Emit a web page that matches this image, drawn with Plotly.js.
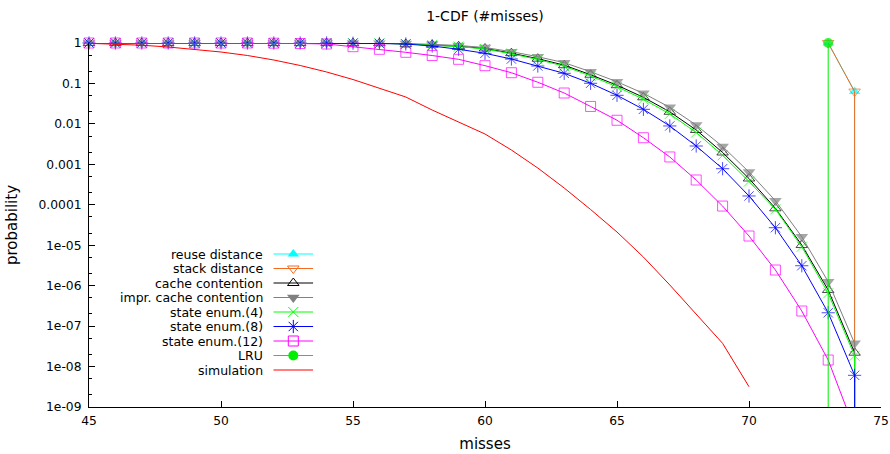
<!DOCTYPE html>
<html><head><meta charset="utf-8">
<script src="https://cdn.plot.ly/plotly-3.0.1.min.js"></script>
<style>html,body{margin:0;padding:0;background:#fff}#chart{width:890px;height:454px}</style>
</head><body><div id="chart"></div>
<script>
// ---------- data ----------
const misses = [45,46,47,48,49,50,51,52,53,54,55,56,57,58,59,60,61,62,63,64,65,66,67,68,69,70,71,72,73,74];
const dropMisses = misses.concat([74]);   // last point: remaining probability falls to 0

const reuseMisses = [73, 74, 74];
const reuseDistance = [1, 0.063, 0];
const stackMisses = [73, 74, 74];
const stackDistance = [1, 0.063, 0];

const cacheContention = [1,1,1,1,1,1,1,1,1,1, 0.994,0.989,0.950,0.903,0.829,0.731,0.560,0.409,0.283,0.164,
  0.0905,0.0454,0.0199,0.00706,0.00196,4.46e-4,8.17e-5,1.01e-5,7.80e-7,2.20e-8, 0];
const imprCacheContention = [1,1,1,1,1,1,1,1,1,1, 0.994,0.989,0.966,0.929,0.868,0.774,0.610,0.458,0.326,0.195,
  0.110,0.0570,0.0257,0.00937,0.00275,6.46e-4,1.26e-4,1.62e-5,1.25e-6,3.75e-8, 0];
const stateEnum4 = [1,1,1,1,1,1,1,1,1,1, 0.993,0.988,0.945,0.892,0.815,0.711,0.541,0.391,0.267,0.153,
  0.0826,0.0408,0.0176,0.00612,0.00167,3.76e-4,7.72e-5,9.18e-6,6.47e-7,1.85e-8, 0];
const stateEnum8 = [1,1,1,1,1,1,1,1,1,1, 0.99,0.972,0.945,0.843,0.699,0.556,0.402,0.270,0.178,0.101,
  0.0509,0.0229,0.00889,0.00284,7.8e-4,1.65e-4,2.71e-5,3.11e-6,2.14e-7,6.07e-9, 0];
const stateEnum12 = [1,1,1,1,1,1,1,0.99,0.972,0.945, 0.81,0.698,0.589,0.49,0.395,0.275,0.184,0.107,0.058,0.027,
  0.0123,0.00455,0.00152,4.1e-4,9.3e-5,1.69e-5,2.44e-6,2.36e-7,1.45e-8,2.8e-10];
const lruMisses = [73, 73];
const lru = [1, 0];
const simMisses = [45,46,47,48,49,50,51,52,53,54,55,56,57,58,59,60,61,62,63,64,65,66,67,68,69,70];
const simulation = [0.983,0.945,0.882,0.796,0.699,0.599,0.491,0.380,0.278,0.192,0.125,0.0771,0.0462,0.0220,
  0.0111,0.00562,0.00226,8.1e-4,2.6e-4,7.64e-5,2.12e-5,5.1e-6,1.04e-6,1.99e-7,3.75e-8,3.17e-9];

const xTickVals = [45,50,55,60,65,70,75];
const yTickVals = [1,0.1,0.01,0.001,0.0001,1e-5,1e-6,1e-7,1e-8,1e-9];
const yTickText = ['1','0.1','0.01','0.001','0.0001','1e-05','1e-06','1e-07','1e-08','1e-09'];

// ---------- styling ----------
const Y_MIN = 1e-9;
const ZERO_STANDIN = 1e-30; // a log axis cannot show 0; this lies far below the range
const toLog = arr => arr.map(v => v > 0 ? v : ZERO_STANDIN);
const FONT = 'DejaVu Sans, Liberation Sans, sans-serif';

const series = [
  {name:'reuse distance', x:reuseMisses, y:reuseDistance, color:'#00ffff', symbol:'triangle-up', size:10, filled:true},
  {name:'stack distance', x:stackMisses, y:stackDistance, color:'#f26b21', symbol:'triangle-down-open', size:10},
  {name:'cache contention', x:dropMisses, y:cacheContention, color:'#000000', symbol:'triangle-up-open', size:10},
  {name:'impr. cache contention', x:dropMisses, y:imprCacheContention, color:'#808080', symbol:'triangle-down', size:11, filled:true},
  {name:'state enum.(4)', x:dropMisses, y:stateEnum4, color:'#00ff00', symbol:'x-thin-open', size:10},
  {name:'state enum.(8)', x:dropMisses, y:stateEnum8, color:'#0000ff', symbol:'asterisk-open', size:11},
  {name:'state enum.(12)', x:misses, y:stateEnum12, color:'#ff00ff', symbol:'square-open', size:10},
  {name:'LRU', x:lruMisses, y:lru, color:'#00ee00', symbol:'circle', size:10, filled:true},
  {name:'simulation', x:simMisses, y:simulation, color:'#ff0000', symbol:null}
];

function markerFor(s, sizes) {
  return {
    symbol: s.symbol, size: sizes, color: s.color,
    line: {color: s.color, width: s.filled ? 0 : 1}
  };
}

const traces = [];
series.forEach(s => {
  const yv = toLog(s.y);
  const t = {type:'scatter', x:s.x, y:yv, name:s.name, showlegend:false, cliponaxis:false,
    mode: s.symbol ? 'lines+markers' : 'lines', line:{color:s.color, width:1}, xaxis:'x', yaxis:'y', hoverinfo:'skip'};
  if (s.symbol) t.marker = markerFor(s, s.y.map(v => v >= Y_MIN ? s.size : 0));
  traces.push(t);
});

// custom legend (gnuplot style: text right-aligned, sample to the right)
const LEG_TOP = 211, LEG_STEP = 14.5;
const annotations = [];
series.forEach((s, i) => {
  const ry = LEG_TOP + LEG_STEP * i;
  traces.push({type:'scatter', x:[0,1], y:[ry,ry], mode:'lines', line:{color:s.color, width:1},
    xaxis:'x3', yaxis:'y3', showlegend:false, hoverinfo:'skip', cliponaxis:false});
  if (s.symbol) traces.push({type:'scatter', x:[0.5], y:[ry], mode:'markers', marker:markerFor(s, s.size),
    xaxis:'x3', yaxis:'y3', showlegend:false, hoverinfo:'skip', cliponaxis:false});
  annotations.push({xref:'x3', yref:'y3', x:0, y:ry, text:s.name, showarrow:false, xanchor:'right',
    yanchor:'middle', xshift:-8, font:{family:FONT, size:12.5, color:'#000'}});
});

const layout = {
  width: 890, height: 454,
  margin: {l:89, r:9, t:43, b:47, pad:0},
  paper_bgcolor:'#fff', plot_bgcolor:'rgba(0,0,0,0)',
  font: {family: FONT, size: 12, color:'#000'},
  title: {text:'1-CDF (#misses)', font:{family:FONT, size:14, color:'#000'}, xref:'paper', x:0.5, xanchor:'center', yref:'container', y:0.965, yanchor:'middle'},
  xaxis: {range:[45,75], tickmode:'array', tickvals:xTickVals, ticks:'inside', ticklen:6, tickcolor:'#000',
    showline:true, linecolor:'#000', linewidth:1, showgrid:false, zeroline:false, mirror:false,
    ticklabelstandoff:2, tickfont:{family:FONT, size:12.3}, title:{text:'misses', font:{family:FONT, size:15}, standoff:11}, automargin:false},
  xaxis2: {range:[45,75], overlaying:'x', side:'top', anchor:'y', tickmode:'array', tickvals:xTickVals, ticks:'inside',
    ticklen:5, tickcolor:'#555', showticklabels:false, showline:false, showgrid:false, zeroline:false},
  yaxis: {type:'log', range:[-9,0], tickmode:'array', tickvals:yTickVals, ticktext:yTickText, ticks:'inside', ticklen:6,
    tickcolor:'#000', showline:true, linecolor:'#000', linewidth:1, showgrid:false, zeroline:false,
    minor:{ticks:'inside', ticklen:3, tickcolor:'#000', dtick:'D2', showgrid:false},
    ticklabelstandoff:4, tickfont:{family:FONT, size:12.3}, title:{text:'probability', font:{family:FONT, size:15}, standoff:17}, automargin:false},
  xaxis3: {domain:[(273.3-89)/792, (313.3-89)/792], range:[0,1], anchor:'y3', visible:false, fixedrange:true},
  yaxis3: {domain:[0,1], range:[364,0], anchor:'x3', visible:false, fixedrange:true},
  annotations: annotations,
  showlegend:false
};

Plotly.newPlot('chart', traces, layout, {staticPlot:true, displayModeBar:false});
</script></body></html>
